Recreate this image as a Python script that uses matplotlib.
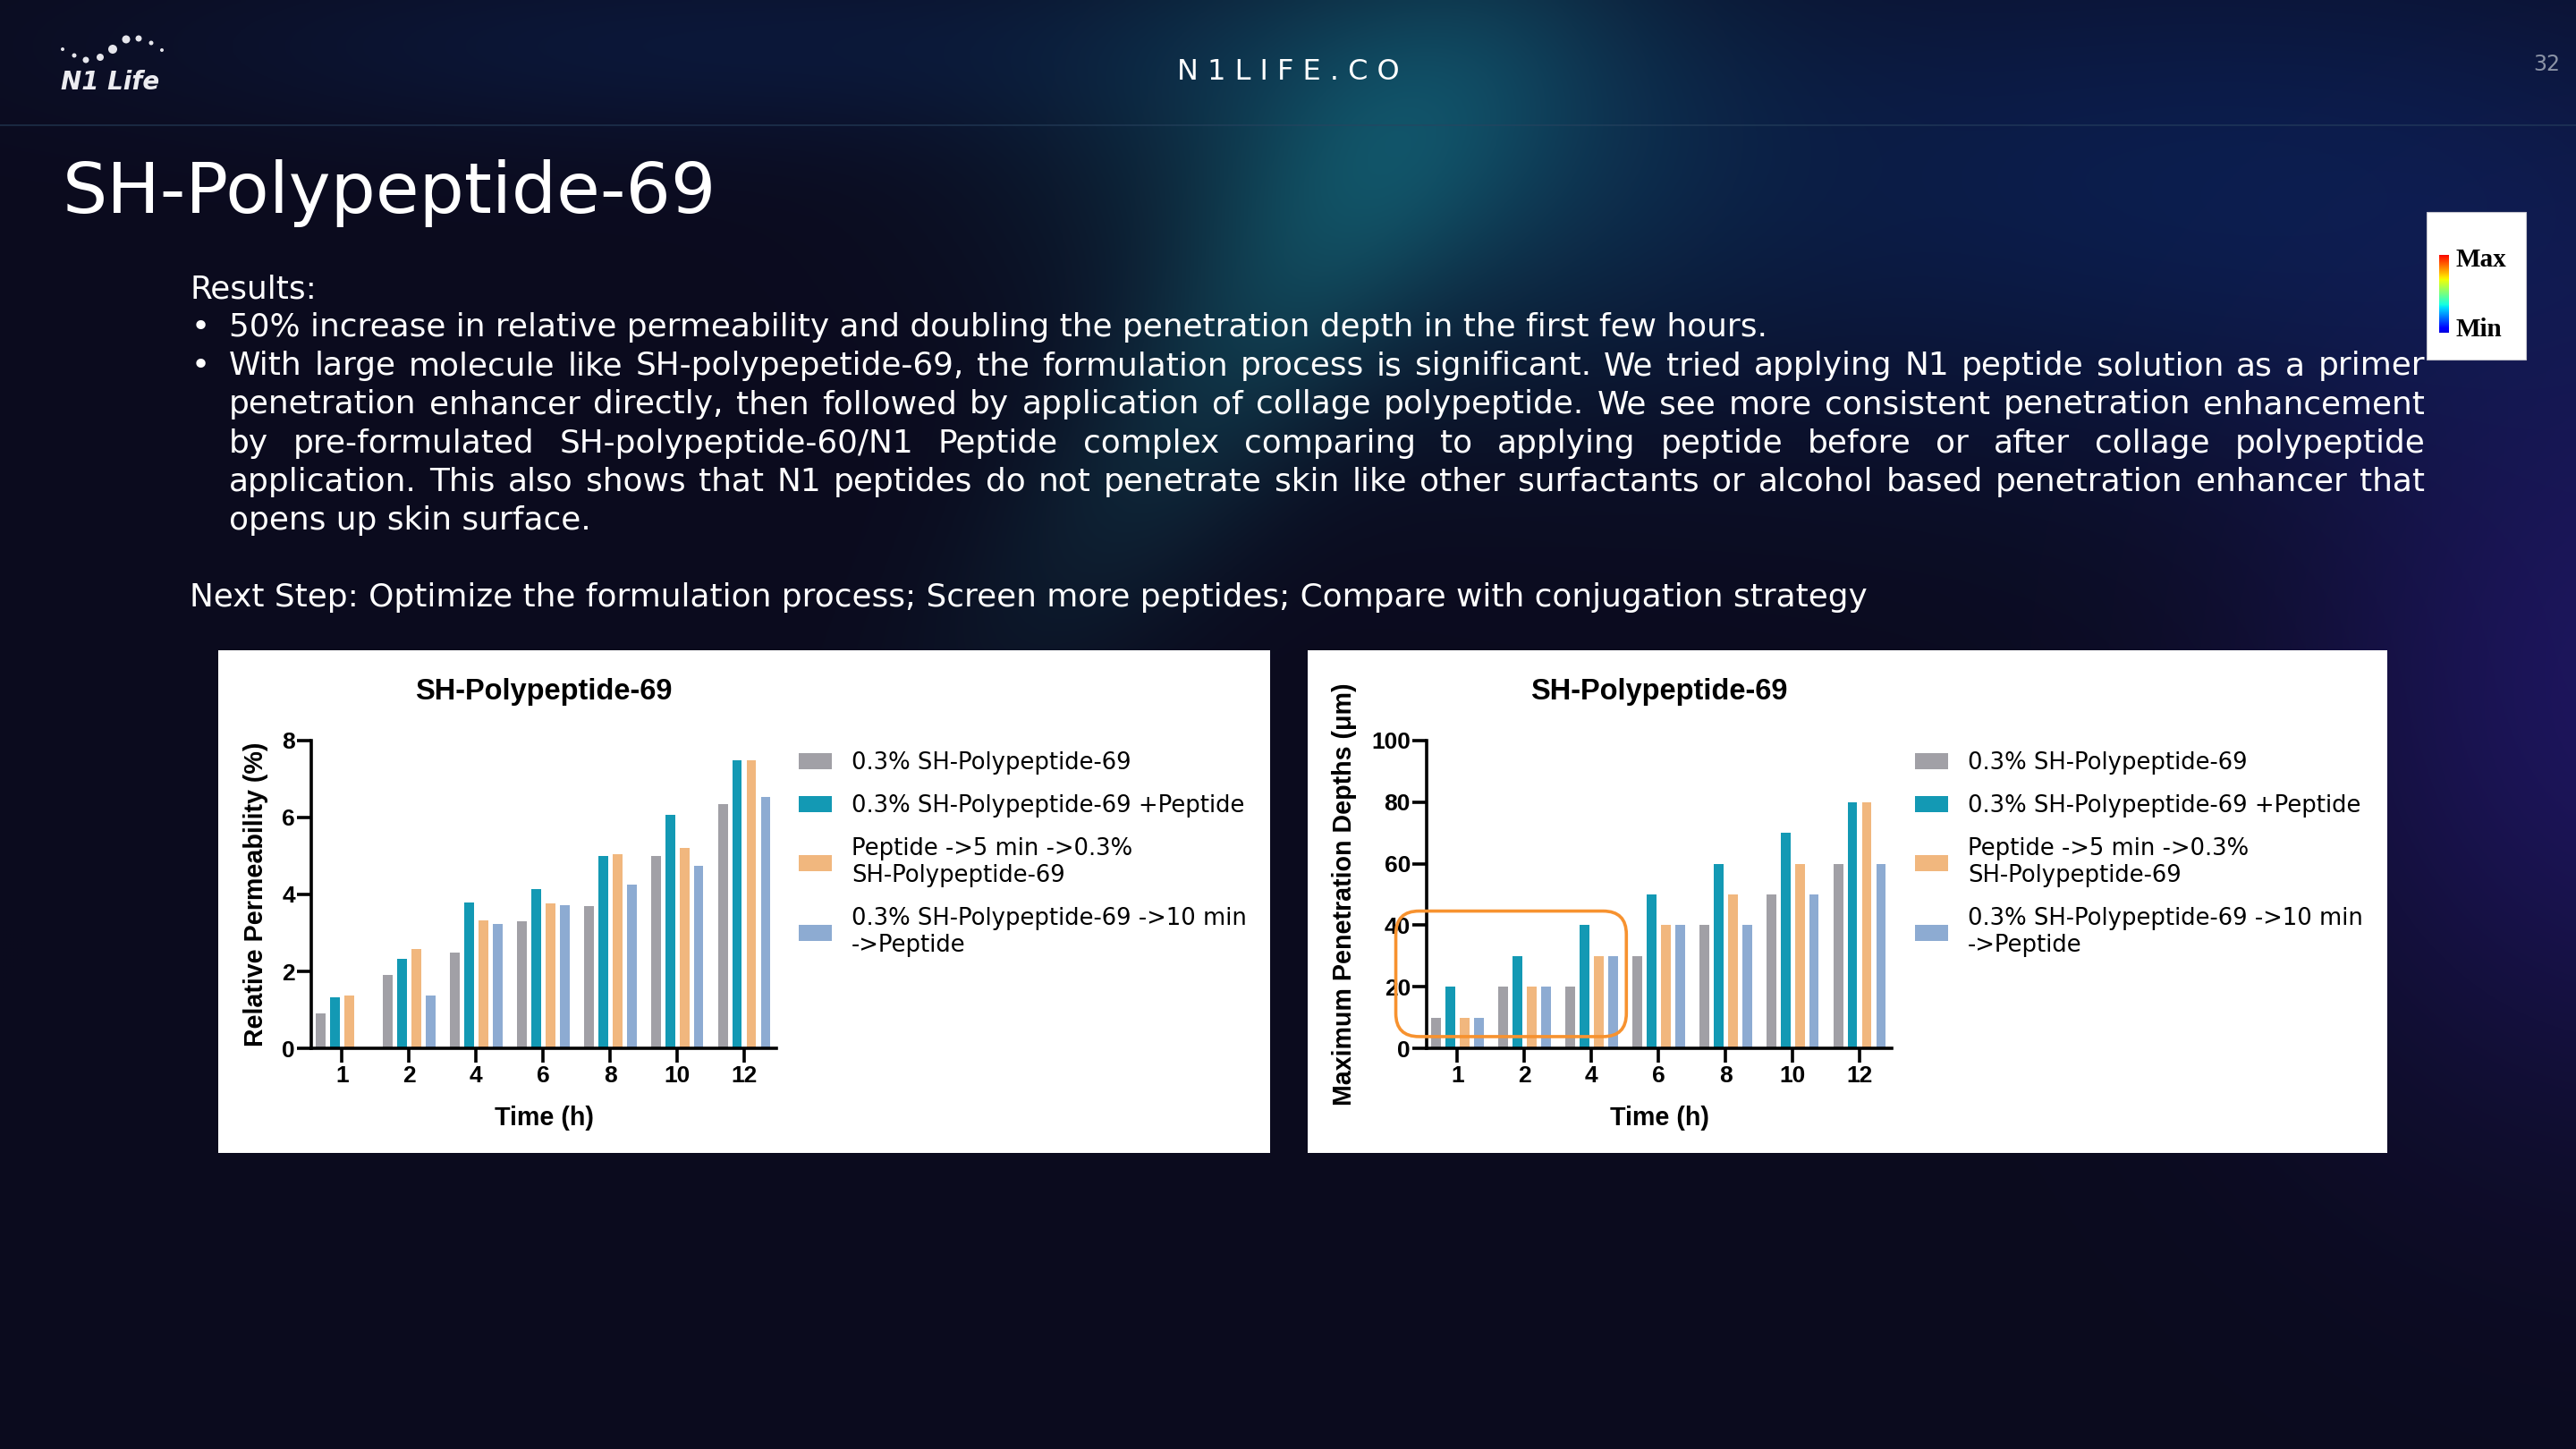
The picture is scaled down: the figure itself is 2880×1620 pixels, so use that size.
import numpy as np
import matplotlib.pyplot as plt
from matplotlib.patches import Rectangle, FancyBboxPatch
from matplotlib.lines import Line2D
from matplotlib.colors import ListedColormap
from matplotlib.transforms import IdentityTransform

W, H = 2880, 1620

hours = ['1', '2', '4', '6', '8', '10', '12']
series = ['0.3% SH-Polypeptide-69',
          '0.3% SH-Polypeptide-69 +Peptide',
          'Peptide ->5 min ->0.3%\nSH-Polypeptide-69',
          '0.3% SH-Polypeptide-69 ->10 min\n->Peptide']
colors = ['#A1A0A6', '#1399B4', '#F1B77E', '#8DABD2']

# relative permeability (%)
perm_alone = [0.90, 1.90, 2.49, 3.30, 3.69, 5.01, 6.36]
perm_mixed = [1.33, 2.33, 3.78, 4.13, 5.01, 6.06, 7.48]
perm_peptide_first = [1.37, 2.58, 3.33, 3.77, 5.05, 5.22, 7.48]
perm_peptide_after = [0.0, 1.37, 3.23, 3.72, 4.25, 4.74, 6.54]

# maximum penetration depth (um)
depth_alone = [10, 20, 20, 30, 40, 50, 60]
depth_mixed = [20, 30, 40, 50, 60, 70, 80]
depth_peptide_first = [10, 20, 30, 40, 50, 60, 80]
depth_peptide_after = [10, 20, 30, 40, 40, 50, 60]

CHART_FONT = 'Liberation Sans'
BODY_FONT = 'DejaVu Sans'
plt.rcParams['font.family'] = BODY_FONT


def fx(x):
    return x / W


def fy(y):
    return 1 - y / H


fig = plt.figure(figsize=(W / 100, H / 100), dpi=100)

# ---- background ----
h, w = 405, 720
X, Y = np.meshgrid(np.linspace(0, W, w), np.linspace(0, H, h))


def glow(cx, cy, sx, sy, col, angle=0.0):
    c, s = np.cos(angle), np.sin(angle)
    u = (X - cx) * c + (Y - cy) * s
    v = -(X - cx) * s + (Y - cy) * c
    g = np.exp(-((u / sx) ** 2 + (v / sy) ** 2))
    return g[..., None] * np.array(col, dtype=float)


img = np.zeros((h, w, 3)) + np.array([11, 11, 30], dtype=float)
img += glow(1560, 140, 330, 240, (4, 48, 42))
img += glow(1400, 380, 420, 130, (4, 30, 28), angle=-0.9)
img += glow(2450, 200, 800, 300, (0, 18, 45))
img += glow(2950, 780, 400, 460, (18, 10, 62))
img += glow(800, 50, 650, 110, (0, 12, 26))
img = np.clip(img, 0, 255) / 255.0
bg = fig.add_axes([0, 0, 1, 1], zorder=-10)
bg.imshow(img, extent=[0, W, H, 0], aspect='auto', interpolation='bilinear')
bg.axis('off')

fig.add_artist(Line2D([0, 1], [fy(140), fy(140)], transform=fig.transFigure,
                      color='#2A4460', lw=1.2, alpha=0.6))

# ---- header ----
dots = [(70, 55, 4), (83, 62, 5), (96, 67, 7), (112, 64, 8), (126, 55, 10),
        (141, 44, 9), (155, 43, 7), (169, 48, 5), (181, 56, 4)]
for dx, dy, d in dots:
    fig.add_artist(plt.Circle((dx, H - dy), d / 2, transform=IdentityTransform(),
                              color='#E6E6EC', lw=0))
fig.text(fx(68), fy(100), 'N1 Life', color='#ECECF0', fontsize=20,
         fontweight='bold', fontstyle='italic', va='baseline')
fig.text(fx(1440), fy(89), 'N 1 L I F E . C O', color='white', fontsize=23,
         ha='center', va='baseline')
fig.text(fx(2847), fy(79), '32', color='#8B93A6', fontsize=17,
         ha='center', va='baseline')

fig.text(fx(70), fy(238), 'SH-Polypeptide-69', color='white', fontsize=57,
         va='baseline')

# ---- body text ----
body = dict(color='white', fontsize=25.8, va='baseline', family=BODY_FONT)
renderer = fig.canvas.get_renderer()


def justified(line, x0, x1, yb):
    words = line.split()
    items = [fig.text(0, fy(yb), wd, **body) for wd in words]
    widths = [t.get_window_extent(renderer).width for t in items]
    gap = (x1 - x0 - sum(widths)) / (len(words) - 1)
    x = x0
    for t, wd in zip(items, widths):
        t.set_x(fx(x))
        x += wd + gap


fig.text(fx(212), fy(333), 'Results:', **body)
fig.text(fx(214), fy(376), '\u2022', **body)
fig.text(fx(256), fy(376), '50% increase in relative permeability and doubling the '
         'penetration depth in the first few hours.', **body)
fig.text(fx(214), fy(419), '\u2022', **body)
para = ['With large molecule like SH-polypepetide-69, the formulation process is '
        'significant. We tried applying N1 peptide solution as a primer',
        'penetration enhancer directly, then followed by application of collage '
        'polypeptide. We see more consistent penetration enhancement',
        'by pre-formulated SH-polypeptide-60/N1 Peptide complex comparing to '
        'applying peptide before or after collage polypeptide',
        'application. This also shows that N1 peptides do not penetrate skin like '
        'other surfactants or alcohol based penetration enhancer that']
for i, line in enumerate(para):
    justified(line, 256, 2711, 419 + 43.3 * i)
fig.text(fx(256), fy(592), 'opens up skin surface.', **body)
fig.text(fx(212), fy(678), 'Next Step: Optimize the formulation process; Screen more '
         'peptides; Compare with conjugation strategy', **body)

# ---- Max / Min scale box ----
fig.add_artist(Rectangle((fx(2713), fy(402)), 111 / W, 165 / H, transform=fig.transFigure,
                         fc='white', ec='#C8C8D0', lw=0.8, zorder=-2))
cax = fig.add_axes([fx(2727), fy(372), 11 / W, 87 / H], zorder=2)
jet = ListedColormap(plt.cm.jet(np.linspace(0.08, 0.9, 256)))
cax.imshow(np.linspace(1, 0, 200)[:, None], cmap=jet, aspect='auto')
cax.axis('off')
fig.text(fx(2745), fy(291), 'Max', family='Liberation Serif', fontweight='bold',
         fontsize=21, va='center', color='black')
fig.text(fx(2745), fy(368), 'Min', family='Liberation Serif', fontweight='bold',
         fontsize=21, va='center', color='black')

# ---- chart panels ----
for x0, x1 in [(244, 1420), (1462, 2669)]:
    fig.add_artist(Rectangle((fx(x0), fy(1289)), (x1 - x0) / W, (1289 - 727) / H,
                             transform=fig.transFigure, fc='white', ec='none', zorder=-5))

x = np.arange(len(hours))
offsets = (np.arange(4) - 1.5) * 0.213


def bar_chart(left, values, ymax, yticks, ylabel, ylabel_x, legend_x):
    ax = fig.add_axes([fx(left), fy(1172), 520 / W, 344 / H])
    ax.set_facecolor('white')
    bars = []
    for vals, off, c in zip(values, offsets, colors):
        bars.append(ax.bar(x + off, vals, width=0.145, color=c, lw=0))
    ax.set_xlim(-0.46, 6.48)
    ax.set_ylim(0, ymax)
    ax.set_yticks(yticks)
    ax.set_xticks(x, hours)
    for s in ['top', 'right']:
        ax.spines[s].set_visible(False)
    for s in ['left', 'bottom']:
        ax.spines[s].set_linewidth(2.6)
    ax.tick_params(axis='both', length=11.5, width=2.6, labelsize=19,
                   labelfontfamily=CHART_FONT)
    ax.tick_params(axis='y', pad=1.5)
    ax.tick_params(axis='x', pad=2.5)
    for lab in ax.get_xticklabels() + ax.get_yticklabels():
        lab.set_fontweight('bold')
    cx = left + 260
    fig.text(fx(cx), fy(782), 'SH-Polypeptide-69', family=CHART_FONT,
             fontweight='bold', fontsize=23.5, ha='center', va='baseline')
    fig.text(fx(cx), fy(1258), 'Time (h)', family=CHART_FONT,
             fontweight='bold', fontsize=20.6, ha='center', va='baseline')
    fig.text(fx(ylabel_x), fy(1000), ylabel, family=CHART_FONT, fontweight='bold',
             fontsize=20.6, rotation=90, ha='center', va='center')
    ax.legend(bars, series, loc='upper left', bbox_to_anchor=(fx(legend_x), fy(840)),
              bbox_transform=fig.transFigure, frameon=False, borderpad=0,
              borderaxespad=0, handlelength=1.43, handleheight=0.7,
              handletextpad=0.85, labelspacing=0.85,
              prop={'family': BODY_FONT, 'size': 18.6})
    return ax


bar_chart(348, [perm_alone, perm_mixed, perm_peptide_first, perm_peptide_after],
          8, [0, 2, 4, 6, 8], 'Relative Permeability (%)', 286, 893)
ax2 = bar_chart(1595, [depth_alone, depth_mixed, depth_peptide_first, depth_peptide_after],
                100, [0, 20, 40, 60, 80, 100], 'Maximum Penetration Depths (\u03bcm)',
                1503, 2141)

# highlight box around the early time points
(bx0, by0) = ax2.transData.transform((-0.92, 3.8))
(bx1, by1) = ax2.transData.transform((2.52, 44.6))
fig.add_artist(FancyBboxPatch((bx0, by0), bx1 - bx0, by1 - by0,
                              boxstyle='round,pad=0,rounding_size=26',
                              transform=IdentityTransform(), fill=False,
                              ec='#F7922F', lw=2.6, zorder=5))

fig.savefig('out.png', dpi=100)
